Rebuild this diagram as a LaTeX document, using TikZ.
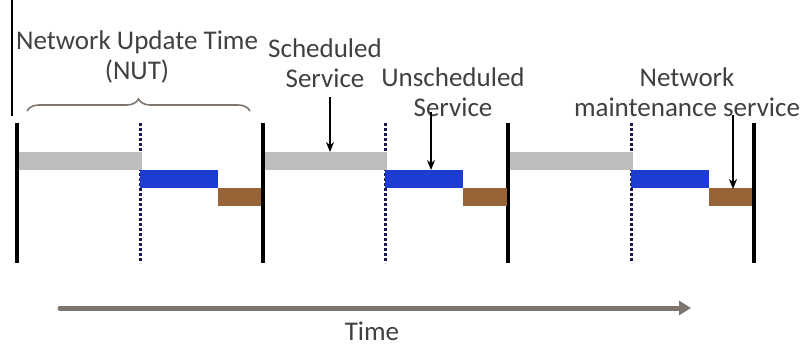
\documentclass[tikz,border=0pt]{standalone}
\usepackage{fontspec}
\setmainfont{Carlito}
\usetikzlibrary{arrows.meta,decorations.pathreplacing}
\definecolor{txtgray}{RGB}{64,64,64}
\definecolor{schedgray}{RGB}{190,190,190}
\definecolor{unschedblue}{RGB}{30,60,210}
\definecolor{maintbrown}{RGB}{150,100,55}
\definecolor{timegray}{RGB}{125,117,110}
\definecolor{dotblue}{RGB}{25,25,80}
\begin{document}
\begin{tikzpicture}[x=1pt,y=-1pt,
  lbl/.style={text=txtgray,font=\fontsize{27}{30}\selectfont,inner sep=0pt,align=center},
  bar/.style={draw=none,inner sep=0pt,minimum height=18pt,anchor=north west},
  schedbar/.style={bar,fill=schedgray},
  unschedbar/.style={bar,fill=unschedblue},
  maintbar/.style={bar,fill=maintbrown},
  bound/.style={line width=4pt,black},
  split/.style={line width=3pt,dotblue,dash pattern=on 3pt off 2pt},
  pointer/.style={line width=1.6pt,black,-{Stealth[length=10pt,width=8pt]}}]
\useasboundingbox (0,0) rectangle (805,348);

% cycle boundaries and split markers
\foreach \x/\n in {17/b1,263/b2,508/b3,754/b4}{
  \coordinate (\n t) at (\x,123); \coordinate (\n b) at (\x,263);
  \draw[bound] (\n t) -- (\n b);}
\foreach \x/\n in {140/d1,385/d2,631/d3}{
  \coordinate (\n t) at (\x,123); \coordinate (\n b) at (\x,263);
  \draw[split] (\n t) -- (\n b);}

% service slots of each cycle
\node[schedbar,minimum width=123pt] (s1) at (19,152) {};
\node[unschedbar,minimum width=78pt] (u1) at (140,170) {};
\node[maintbar,minimum width=43pt] (m1) at (218,188) {};
\node[schedbar,minimum width=122pt] (s2) at (265,152) {};
\node[unschedbar,minimum width=78pt] (u2) at (385,170) {};
\node[maintbar,minimum width=44pt] (m2) at (463,188) {};
\node[schedbar,minimum width=123pt] (s3) at (510,152) {};
\node[unschedbar,minimum width=78pt] (u3) at (631,170) {};
\node[maintbar,minimum width=43pt] (m3) at (709,188) {};

% thin marker line at the left edge
\coordinate (edgetop) at (12,0);
\coordinate (edgebot) at (12,116);
\draw[line width=1.2pt,black] (edgetop) -- (edgebot);

% brace over the first cycle
\coordinate (brl) at (27,111);
\coordinate (brr) at (250,111);
\draw[decorate,decoration={brace,amplitude=12pt},line width=1.6pt,timegray] (brl) -- (brr);

% labels
\node[lbl] (nut) at (137,57) {Network Update Time\\(NUT)};
\node[lbl] (sched) at (325,63) {Scheduled\\Service};
\node[lbl] (unsched) at (453,92) {Unscheduled\\Service};
\node[lbl] (maint) at (687,92) {Network\\maintenance service};

% pointers to the slots
\coordinate (p1) at (330,97);
\coordinate (p2) at (431,112);
\coordinate (p3) at (733,115);
\draw[pointer] (p1) -- (s2.north -| p1);
\draw[pointer] (p2) -- (u2.north -| p2);
\draw[pointer] (p3) -- ([yshift=-1pt]m3.north -| p3);

% time axis
\coordinate (tstart) at (60,308);
\coordinate (tend) at (691,308);
\draw[line width=5pt,timegray,line cap=round,-{Triangle[length=12pt,width=14pt]}] (tstart) -- (tend);
\node[lbl] (time) at (372,331) {Time};
\end{tikzpicture}
\end{document}
